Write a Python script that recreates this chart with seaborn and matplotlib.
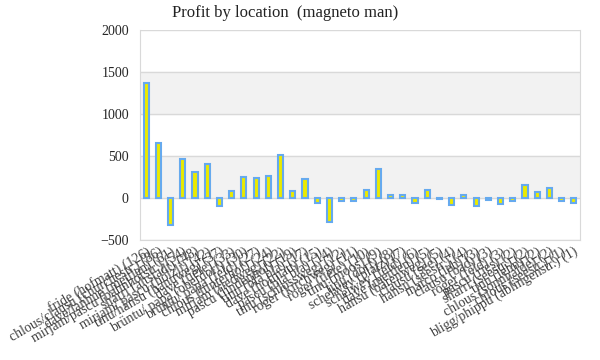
import pandas as pd
import matplotlib.pyplot as plt
import seaborn as sns

locations = [
    'fride (hofmatt) (126)', 'chlous/clausu (churchestr.) (86)', 'dave/lanhue (mettlen) (61)',
    'mirjam/pascu (bahnhofstr.) (54)', 'sharri (altstadt) (48)', 'mirjam/ pascu (hölzli) (42)',
    'tinu/hänsu (hanuweg) (37)', 'dave (tiefe) (33)', 'brüntu/ papa (oberdorf) (30)',
    'brüntu/ papa (feld) (27)', 'chlous (hinterhof) (24)', 'mirjam (riedweg) (22)',
    'pascu (lindenhof) (19)', 'tinu (bla bla) (17)', 'dave (hofmatt) (15)',
    'pascu (bla bla) (14)', 'tinu (schlossweg) (12)', 'roger (kirchweg) (11)',
    'roger (tiefe) (10)', 'tinu (moos) (9)', 'tinu (dorf) (8)', 'schelwey (platz) (7)',
    'schelwey (feld) (6)', 'dave (mettlen) (5)', 'hansu (bärenweg) (5)', 'clausu (see) (4)',
    'hansu (seestr.) (4)', 'marco (leh) (3)', 'clausu (bad) (3)', 'roger (feld) (3)',
    'pascu (ries) (2)', 'sharri (seestr.) (2)', 'tinu (lehn) (2)', 'chlous (sonnhalde) (2)',
    'chlous (seestr.) (1)', 'bligg/phippu (ablingenstr.) (1)',
]
profit = [
    1370, 655, -320, 465, 310, 405, -95, 83, 250, 238, 262, 512, 83, 230, -63, -290,
    -36, -36, 99, 349, 40, 40, -63, 99, -16, -87, 40, -99, -28, -75, -40, 159, 71, 123,
    -40, -63,
]

df = pd.DataFrame({'location': locations, 'profit': profit})

sns.set_style('white')
plt.rcParams['font.family'] = ['Liberation Serif', 'DejaVu Serif']

fig = plt.figure(figsize=(6, 3.6), dpi=100)
ax = fig.add_axes([0.2333, 0.3333, 0.7333, 0.5834])

# alternating bands + gridlines
ax.axhspan(0, 500, color='#f2f2f2', zorder=0)
ax.axhspan(1000, 1500, color='#f2f2f2', zorder=0)
for yv in range(-500, 2001, 500):
    ax.axhline(yv, color='#d9d9d9', lw=1, zorder=0.5)

sns.barplot(data=df, x='location', y='profit', color='#eaea00', saturation=1,
            edgecolor='#66aaee', linewidth=1.5, width=0.42, ax=ax, zorder=2)

ax.set_ylim(-500, 2000)
ax.set_yticks(range(-500, 2001, 500))
ax.set_xlim(-0.5, len(locations) - 0.5)
ax.set_xlabel('')
ax.set_ylabel('')
ax.tick_params(length=0)
ax.tick_params(axis='y', labelsize=10, pad=8)
for lab in ax.get_xticklabels():
    lab.set_rotation(30)
    lab.set_ha('right')
    lab.set_rotation_mode('anchor')
    lab.set_fontsize(10)
    lab.set_color('#404040')

for s in ['left', 'right', 'bottom']:
    ax.spines[s].set_color('#d9d9d9')
ax.spines['top'].set_visible(False)

fig.text(0.475, 0.965, 'Profit by location  (magneto man)', ha='center', va='center',
         fontsize=12, color='#222222')

fig.savefig('out.png', dpi=100)
